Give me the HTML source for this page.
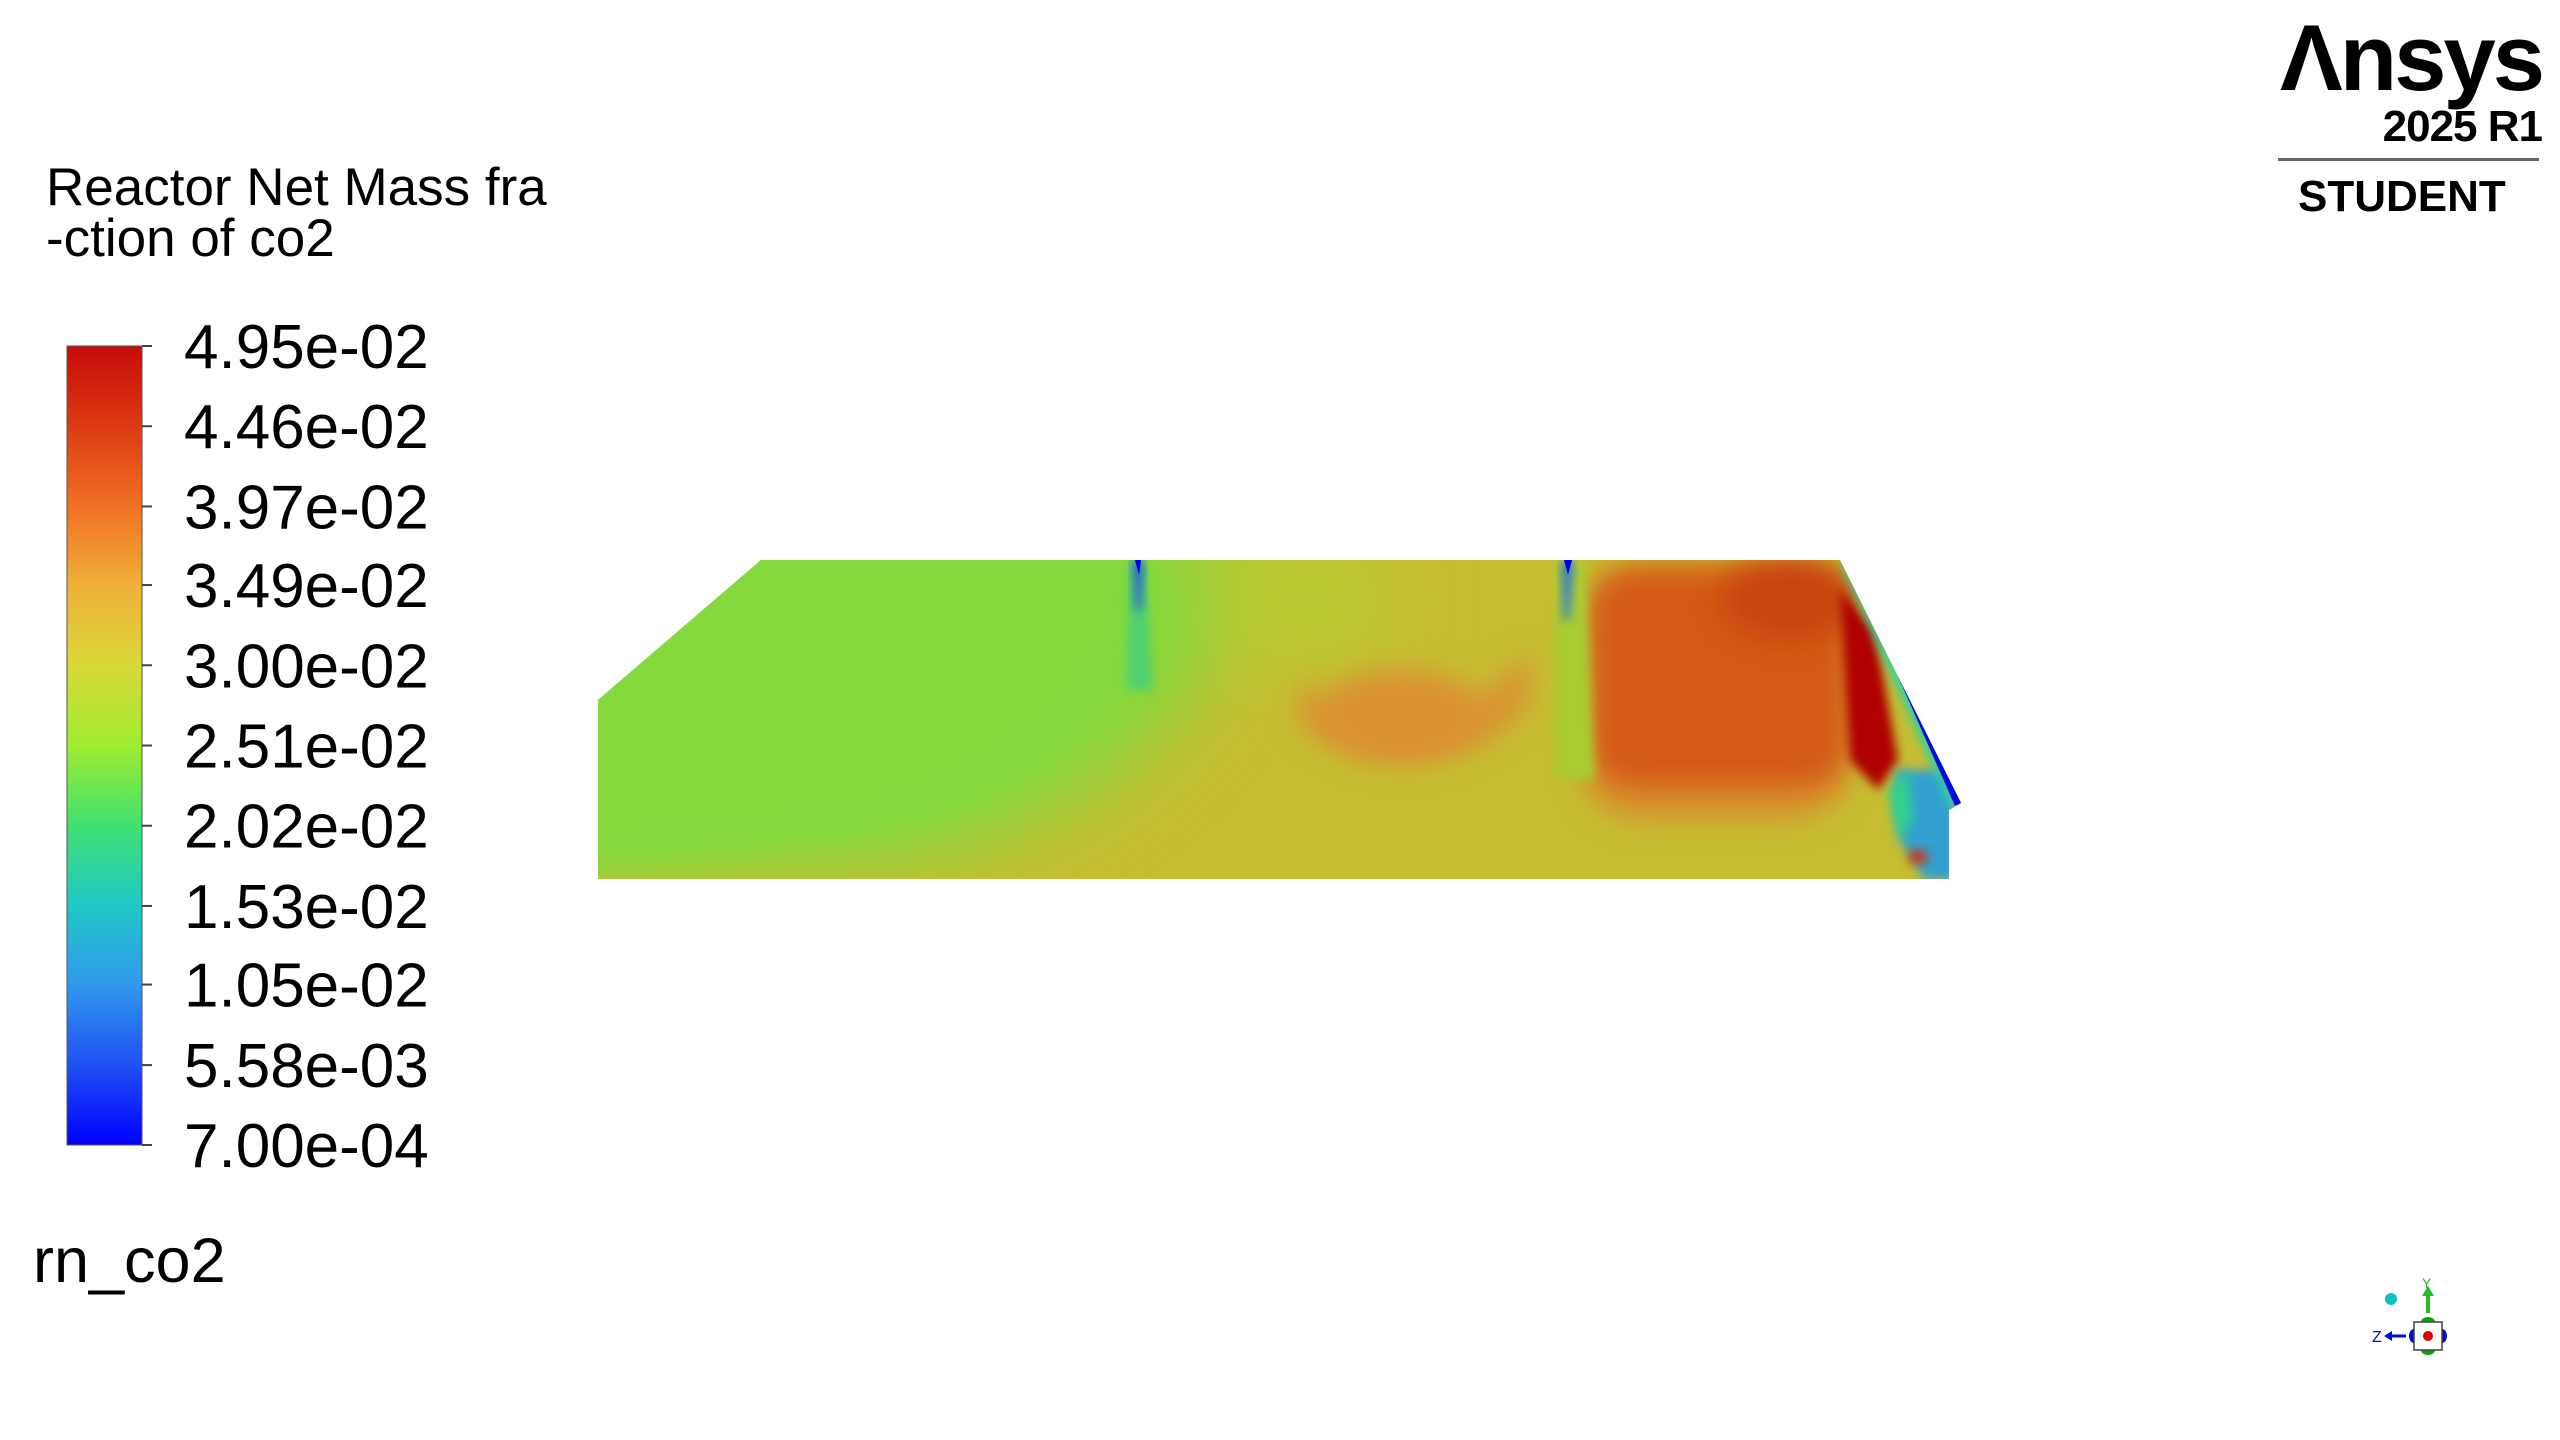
<!DOCTYPE html>
<html><head><meta charset="utf-8">
<style>
html,body{margin:0;padding:0;background:#fff;}
body{width:2560px;height:1440px;position:relative;overflow:hidden;font-family:"Liberation Sans",sans-serif;}
.t{position:absolute;white-space:nowrap;color:#000;}
</style></head>
<body>
<div class="t" style="left:46px;top:162px;font-size:53px;line-height:51px;">Reactor Net Mass fra<br>-ction of co2</div>
<div class="t" style="left:33px;top:1225px;font-size:63px;">rn_co2</div>

<svg id="legend" width="460" height="1200" style="position:absolute;left:0;top:0" xmlns="http://www.w3.org/2000/svg">
<defs><linearGradient id="cb" x1="0" y1="1" x2="0" y2="0">
<stop offset="0" stop-color="#0000ff"/><stop offset="0.1" stop-color="#2050f4"/>
<stop offset="0.2" stop-color="#3098ec"/><stop offset="0.3" stop-color="#20c8c8"/>
<stop offset="0.4" stop-color="#40e070"/><stop offset="0.5" stop-color="#a0ec30"/>
<stop offset="0.6" stop-color="#d8d838"/><stop offset="0.7" stop-color="#f0b038"/>
<stop offset="0.8" stop-color="#f07024"/><stop offset="0.9" stop-color="#dc3a12"/>
<stop offset="1" stop-color="#c80a0a"/></linearGradient></defs>
<rect x="67" y="346" width="75" height="799" fill="url(#cb)" stroke="#555" stroke-width="1"/>
<g id="ticks"></g>
</svg>

<svg width="2560" height="1440" style="position:absolute;left:0;top:0" xmlns="http://www.w3.org/2000/svg">
<defs>
<clipPath id="dom"><polygon points="598,700 761,560 1840,560 1961,803 1949,810 1949,879 598,879"/></clipPath>
<filter id="b1" x="-50%" y="-50%" width="200%" height="200%"><feGaussianBlur stdDeviation="40"/></filter>
<filter id="b2" x="-50%" y="-50%" width="200%" height="200%"><feGaussianBlur stdDeviation="14"/></filter>
<filter id="b3" x="-50%" y="-50%" width="200%" height="200%"><feGaussianBlur stdDeviation="5"/></filter>
</defs>
<g clip-path="url(#dom)">
<rect x="590" y="550" width="1400" height="340" fill="#c6bd32"/>
<path d="M560,540 L1250,540 C1230,720 1080,830 900,860 L560,880 Z" fill="#84d93e" filter="url(#b1)"/>
<path d="M560,540 L1170,540 C1150,720 1000,810 850,840 L560,870 Z" fill="#84d93e" filter="url(#b2)"/>
<ellipse cx="1300" cy="600" rx="90" ry="60" fill="#b8cc30" filter="url(#b1)"/>
<path d="M1300,680 C1360,740 1460,740 1530,650 L1530,700 C1470,780 1350,780 1300,720 Z" fill="#dc9030" filter="url(#b2)"/>
<ellipse cx="1400" cy="710" rx="80" ry="40" fill="#dc9030" filter="url(#b2)"/>
<rect x="1580" y="565" width="270" height="255" rx="60" fill="#d8922e" filter="url(#b2)"/>
<rect x="1590" y="568" width="258" height="220" rx="45" fill="#d45a18" filter="url(#b2)"/>
<ellipse cx="1790" cy="600" rx="70" ry="40" fill="#c8440e" filter="url(#b2)"/>
<path d="M1840,590 L1875,630 L1898,760 L1878,790 L1850,760 Z" fill="#b00000" filter="url(#b3)"/>
<path d="M1555,560 L1585,560 L1595,780 L1555,780 Z" fill="#a8cc30" filter="url(#b3)"/>
<path d="M1130,560 L1145,560 L1153,690 L1127,690 Z" fill="#50d070" filter="url(#b3)"/>
<path d="M1133,560 L1143,560 L1141,610 L1136,610 Z" fill="#2050e0" filter="url(#b3)"/>
<path d="M1562,560 L1573,560 L1569,620 L1564,620 Z" fill="#2070e0" filter="url(#b3)"/>
<path d="M1135,560 L1141,560 L1139,575 Z" fill="#0000e0"/>
<path d="M1564,560 L1572,560 L1568,575 Z" fill="#0000e0"/>
<path d="M1895,770 L1955,770 L1955,880 L1925,880 L1900,840 Z" fill="#30a0d0" filter="url(#b3)"/>
<path d="M1888,790 L1908,770 L1913,820 L1898,840 Z" fill="#30d090" filter="url(#b3)"/>
<ellipse cx="1918" cy="857" rx="10" ry="7" fill="#d03010" filter="url(#b3)"/>
<path d="M1840,560 L1855,560 L1968,800 L1951,808 Z" fill="#30d0a0" filter="url(#b3)"/>
<path d="M1847,560 L1857,560 L1968,800 L1955,806 Z" fill="#0008e0"/>
</g>
</svg>

<div style="position:absolute;left:2270px;top:0;width:290px;height:240px;">
<div class="t" style="right:18px;top:4px;font-size:94px;font-weight:bold;letter-spacing:-3px;">Λnsys</div>
<div class="t" style="right:18px;top:102px;font-size:44px;font-weight:bold;letter-spacing:-1px;">2025 R1</div>
<div style="position:absolute;left:8px;top:158px;width:261px;height:3px;background:#666;"></div>
<div class="t" style="left:28px;top:172px;font-size:44px;font-weight:bold;">STUDENT</div>
</div>

<svg width="160" height="120" style="position:absolute;left:2340px;top:1260px" xmlns="http://www.w3.org/2000/svg">
<circle cx="51" cy="39" r="6" fill="#10c0c8"/>
<line x1="88" y1="53" x2="88" y2="35" stroke="#20c020" stroke-width="4"/><polygon points="82,36 94,36 88,26" fill="#20c020"/>
<text x="82" y="28" font-size="14" fill="#20c020" font-family="Liberation Sans">Y</text>
<ellipse cx="88" cy="62" rx="7" ry="5" fill="#10a010"/><ellipse cx="88" cy="90" rx="7" ry="5" fill="#10a010"/>
<ellipse cx="74" cy="76" rx="5" ry="7" fill="#0010c0"/><ellipse cx="102" cy="76" rx="5" ry="7" fill="#0010c0"/>
<rect x="74" y="62" width="28" height="28" fill="#fff" stroke="#444" stroke-width="1.5"/>
<circle cx="88" cy="76" r="5" fill="#e00000"/>
<line x1="66" y1="76" x2="50" y2="76" stroke="#0010d0" stroke-width="3"/><polygon points="52,71 52,81 44,76" fill="#0010d0"/>
<text x="32" y="82" font-size="16" fill="#0010d0" font-family="Liberation Sans">Z</text>
</svg>

<script>
const tickLabels = ["4.95e-02","4.46e-02","3.97e-02","3.49e-02","3.00e-02","2.51e-02","2.02e-02","1.53e-02","1.05e-02","5.58e-03","7.00e-04"];
const tickValues = [0.0495,0.0446,0.0397,0.0349,0.0300,0.0251,0.0202,0.0153,0.0105,0.00558,0.0007];
const vMin = 0.0007, vMax = 0.0495;
function yScale(v){ return 1145 - (v - vMin)/(vMax - vMin)*799; }
const g = document.getElementById('ticks');
const ns = "http://www.w3.org/2000/svg";
tickValues.forEach((v,i)=>{
  const y = yScale(v);
  const l = document.createElementNS(ns,'line');
  l.setAttribute('x1',142); l.setAttribute('x2',152);
  l.setAttribute('y1',y); l.setAttribute('y2',y);
  l.setAttribute('stroke','#444'); l.setAttribute('stroke-width',2);
  
  
  g.appendChild(l);
  const t = document.createElementNS(ns,'text');
  t.setAttribute('x',184); t.setAttribute('y',y+22);
  t.setAttribute('font-size',62);
  t.setAttribute('font-family','Liberation Sans, sans-serif');
  t.textContent = tickLabels[i];
  
  
  g.appendChild(t);
});
</script>
</body></html>
